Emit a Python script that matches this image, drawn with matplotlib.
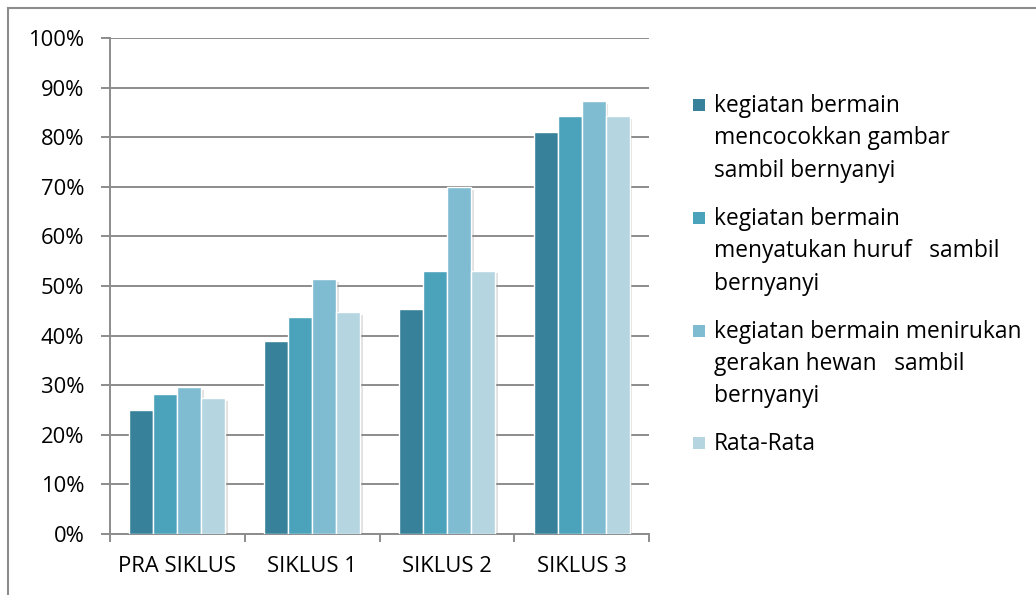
import matplotlib
matplotlib.use("Agg")
import matplotlib.pyplot as plt
import matplotlib.patheffects as pe
from matplotlib.patches import Rectangle
from matplotlib.lines import Line2D
import numpy as np

categories = ["PRA SIKLUS", "SIKLUS 1", "SIKLUS 2", "SIKLUS 3"]
series_labels = [
    "kegiatan bermain\nmencocokkan gambar\nsambil bernyanyi",
    "kegiatan bermain\nmenyatukan huruf   sambil\nbernyanyi",
    "kegiatan bermain menirukan\ngerakan hewan   sambil\nbernyanyi",
    "Rata-Rata",
]
mencocokkan = [25.0, 39.0, 45.3, 81.1]
menyatukan = [28.2, 43.7, 53.0, 84.2]
menirukan = [29.6, 51.4, 70.0, 87.3]
rata_rata = [27.4, 44.7, 53.1, 84.2]
yticks = [0, 10, 20, 30, 40, 50, 60, 70, 80, 90, 100]
ytick_labels = [f"{v}%" for v in yticks]

colors = ["#37829a", "#4aa2bb", "#7fbbd1", "#b5d5e1"]
series = [mencocokkan, menyatukan, menirukan, rata_rata]

FONT = "Open Sans"
FS = 15.8
FS_LEG = 16.4
W, H = 1036, 595
fig = plt.figure(figsize=(W / 100, H / 100), dpi=100)

def fx(px):
    return px / W

def fy(py):
    return 1 - py / H

ax = fig.add_axes([fx(110), fy(534), fx(649) - fx(110), fy(38) - fy(534)])

x = np.arange(len(categories))
bw = 0.178
for i, (vals, c) in enumerate(zip(series, colors)):
    offs = (i - 1.5) * bw
    bars = ax.bar(x + offs, vals, width=bw, color=c, edgecolor="white",
                  linewidth=1.0, zorder=3)
    for b in bars:
        b.set_path_effects([pe.SimplePatchShadow(offset=(2, -2), shadow_rgbFace="#888888", alpha=0.25),
                            pe.Normal()])

ax.set_xlim(-0.5, len(categories) - 0.5)
ax.set_ylim(0, 100)
ax.set_yticks(yticks)
ax.set_yticklabels(ytick_labels, fontsize=FS, family=FONT)
ax.yaxis.grid(True, color="#8c8c8c", linewidth=1.4, zorder=0)
ax.set_axisbelow(True)

# category boundaries as major ticks, labels at centers as minor ticks
ax.set_xticks(np.arange(-0.5, len(categories), 1.0))
ax.set_xticklabels([])
ax.set_xticks(x, minor=True)
ax.set_xticklabels(categories, minor=True, fontsize=FS, family=FONT)
ax.tick_params(axis="x", which="major", length=6, width=1.4, color="#8c8c8c", direction="out")
ax.tick_params(axis="x", which="minor", length=0, pad=16)
ax.tick_params(axis="y", length=6.5, width=1.4, color="#8c8c8c", pad=12)

for s in ["top", "right"]:
    ax.spines[s].set_visible(False)
for s in ["left", "bottom"]:
    ax.spines[s].set_color("#8c8c8c")
    ax.spines[s].set_linewidth(1.4)

# outer border (top and left only visible in the reference)
fig.add_artist(Line2D([fx(8), 1.0], [fy(8), fy(8)], color="#8c8c8c", linewidth=1.5))
fig.add_artist(Line2D([fx(8), fx(8)], [fy(8), 0.0], color="#8c8c8c", linewidth=1.5))

# legend drawn manually to mimic top-aligned markers
line_step = 32.4
entry_gap = 48
baseline = 112
for lab, c in zip(series_labels, colors):
    lines = lab.split("\n")
    fig.add_artist(Rectangle((fx(693), fy(baseline - 1)), fx(705) - fx(693), fy(baseline - 13) - fy(baseline - 1),
                             facecolor=c, edgecolor="none", transform=fig.transFigure))
    for k, ln in enumerate(lines):
        fig.text(fx(714), fy(baseline + k * line_step), ln, fontsize=FS_LEG, family=FONT,
                 va="baseline", ha="left", color="#000000")
    baseline += (len(lines) - 1) * line_step + entry_gap

fig.savefig("out.png", dpi=100)
